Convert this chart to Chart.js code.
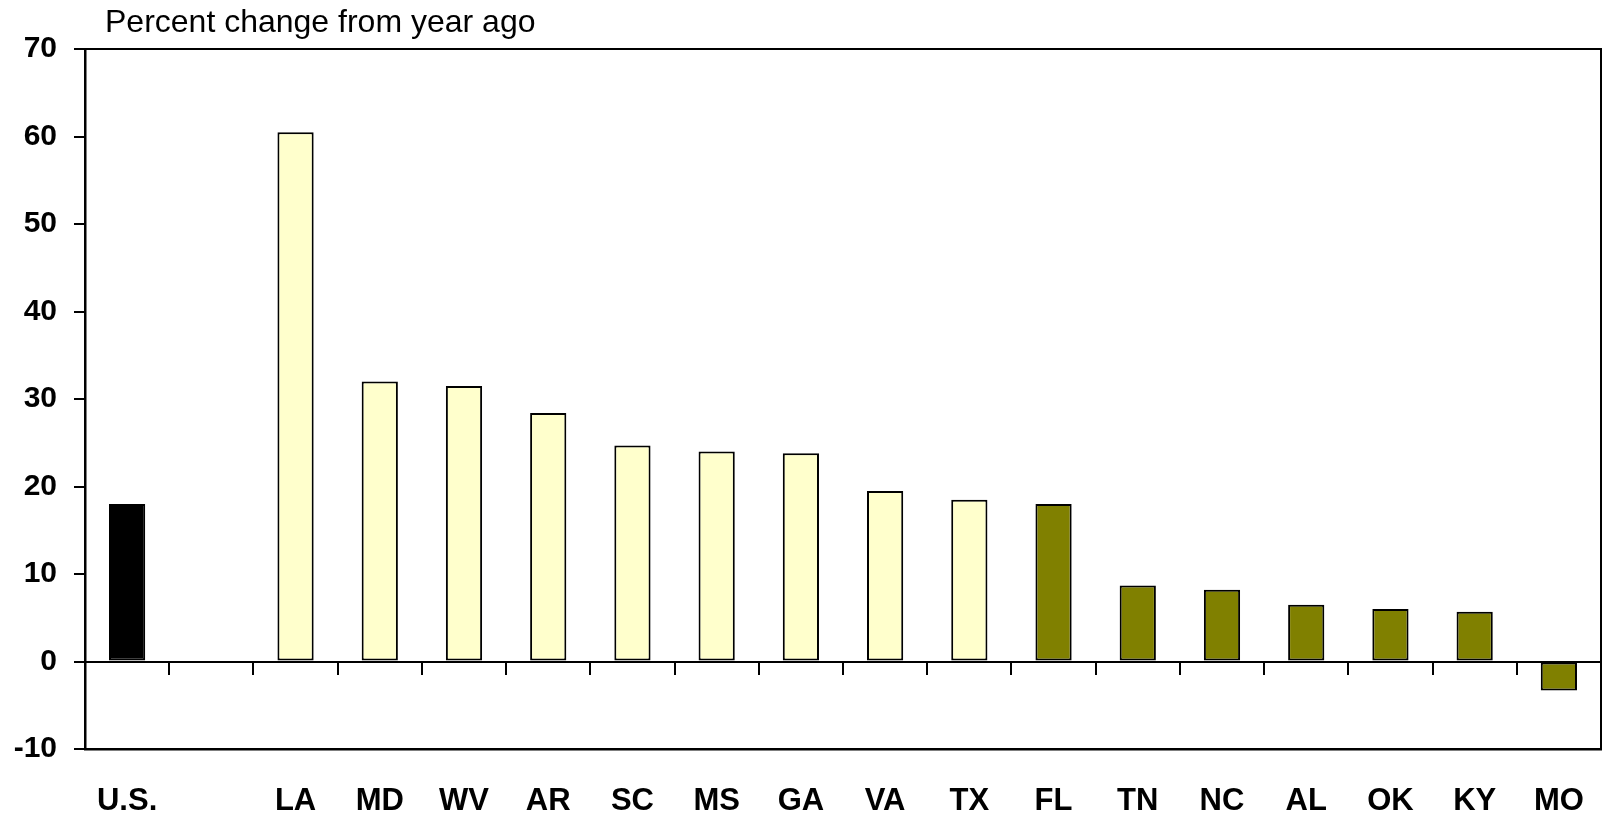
<!DOCTYPE html>
<html>
<head>
<meta charset="utf-8">
<script src="https://cdn.jsdelivr.net/npm/chart.js@4.4.0/dist/chart.umd.min.js"></script>
<style>
  html, body { margin: 0; padding: 0; background: #fff; }
  #wrap { width: 1602px; height: 814px; }
</style>
</head>
<body>
<div id="wrap"><canvas id="c" width="1602" height="814"></canvas></div>
<script>
const categories = ["U.S.", "", "LA", "MD", "WV", "AR", "SC", "MS", "GA", "VA", "TX", "FL", "TN", "NC", "AL", "OK", "KY", "MO"];
const values = [18.0, null, 60.5, 32.0, 31.5, 28.4, 24.7, 24.0, 23.8, 19.5, 18.5, 18.0, 8.7, 8.2, 6.5, 6.0, 5.7, -3.3];
const groups = ["us", "none", "high", "high", "high", "high", "high", "high", "high", "high", "high", "low", "low", "low", "low", "low", "low", "low"];
const groupColors = { us: "#000000", none: "#ffffff", high: "#FFFFCC", low: "#808000" };
const yTicks = [-10, 0, 10, 20, 30, 40, 50, 60, 70];
const titleText = "Percent change from year ago";

const framePlugin = {
  id: "frame",
  afterDraw(chart) {
    const { ctx, chartArea: a } = chart;
    ctx.save();
    ctx.strokeStyle = "#000";
    ctx.lineWidth = 2;
    ctx.beginPath();
    ctx.moveTo(a.left, a.top);
    ctx.lineTo(a.right, a.top);
    ctx.lineTo(a.right, a.bottom);
    ctx.stroke();
    ctx.fillStyle = "#000";
    ctx.font = "32px 'Liberation Sans', Arial, sans-serif";
    ctx.textBaseline = "alphabetic";
    ctx.textAlign = "left";
    ctx.fillText(titleText, a.left + 20, 32);
    ctx.restore();
  }
};

const noSidePad = s => { s.paddingLeft = 0; s.paddingRight = 0; };

new Chart(document.getElementById("c"), {
  type: "bar",
  data: {
    labels: categories,
    datasets: [{
      data: values,
      backgroundColor: groups.map(g => groupColors[g]),
      borderColor: "#000",
      borderWidth: 2,
      borderSkipped: false,
      categoryPercentage: 1,
      barPercentage: 0.43
    }]
  },
  options: {
    responsive: false,
    animation: false,
    devicePixelRatio: 1,
    layout: { padding: { top: 49, left: 0, right: 1, bottom: 0 } },
    plugins: { legend: { display: false }, tooltip: { enabled: false } },
    scales: {
      y: {
        min: -10, max: 70,
        afterBuildTicks: s => { s.ticks = yTicks.map(v => ({ value: v })); },
        afterFit: s => { s.width = 85; },
        ticks: {
          color: "#000",
          padding: 17,
          font: { family: "'Liberation Sans', Arial, sans-serif", size: 30, weight: "bold" }
        },
        grid: { drawOnChartArea: false, tickLength: 11, color: "#000", lineWidth: 2 },
        border: { display: true, color: "#000", width: 2.5 }
      },
      x: {
        position: "bottom",
        afterFit: s => { s.height = 65; noSidePad(s); },
        ticks: {
          color: "#000",
          padding: 34,
          maxRotation: 0,
          autoSkip: false,
          font: { family: "'Liberation Sans', Arial, sans-serif", size: 31, weight: "bold" }
        },
        grid: { display: false, drawTicks: false },
        border: { display: true, color: "#000", width: 2.5 }
      },
      x2: {
        type: "category",
        labels: categories,
        position: { y: 0 },
        offset: true,
        afterFit: noSidePad,
        ticks: { display: false },
        grid: { offset: true, drawOnChartArea: false, drawTicks: true, tickLength: 12, color: "#000", lineWidth: 2 },
        border: { display: true, color: "#000", width: 2 }
      }
    }
  },
  plugins: [framePlugin]
});
</script>
</body>
</html>
